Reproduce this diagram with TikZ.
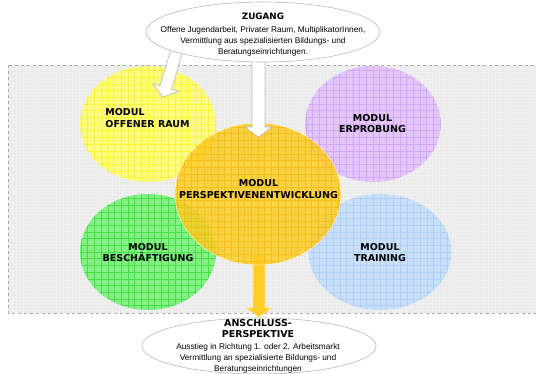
\documentclass[tikz,border=0pt]{standalone}
\usepackage{fontspec}
\setmainfont{Liberation Sans}
\newfontfamily\modfont{DejaVu Sans}
\usetikzlibrary{shapes.geometric,calc}
\definecolor{bgfill}{RGB}{234,234,234}
\definecolor{bggrid}{RGB}{240,240,240}
\definecolor{bgedge}{RGB}{170,170,170}
\definecolor{yelf}{RGB}{255,255,115}
\definecolor{yelg}{RGB}{250,235,10}
\definecolor{orgf}{RGB}{255,205,40}
\definecolor{orgg}{RGB}{240,180,0}
\definecolor{purf}{RGB}{226,192,250}
\definecolor{purg}{RGB}{200,150,245}
\definecolor{grnf}{RGB}{115,240,115}
\definecolor{grng}{RGB}{30,215,30}
\definecolor{bluf}{RGB}{196,222,250}
\definecolor{blug}{RGB}{160,200,245}
\definecolor{ovledge}{RGB}{185,185,185}
\newcommand\blkarrow[6]{%
  \coordinate (#2-base) at ($(#3)!#6!(#2)$);
  \draw[#1] ($(#2)!#4!90:(#3)$) -- ($(#2-base)!#4!90:(#3)$) -- ($(#2-base)!#5!90:(#3)$) -- (#3)
    -- ($(#2-base)!#5!-90:(#3)$) -- ($(#2-base)!#4!-90:(#3)$) -- ($(#2)!#4!-90:(#3)$) -- cycle;}
\newcommand\hdfont{\modfont\bfseries\fontsize{9.5}{11.5}\selectfont}
\newcommand\zgfont{\modfont\bfseries\fontsize{8.8}{11}\selectfont}
\begin{document}
\begin{tikzpicture}[x=1pt,y=-1pt,
  modtext/.style={font=\modfont\bfseries\fontsize{9.5}{11.5}\selectfont, align=center, inner sep=0pt},
  modcirc/.style 2 args={ellipse, inner sep=0pt, outer sep=0pt, fill=#1, fill opacity=0.85,
    path picture={\draw[#2, line width=0.55pt, draw opacity=0.6, step=6.7pt]
      (path picture bounding box.south west) grid (path picture bounding box.north east);}},
  infoell/.style={ellipse, inner sep=0pt, draw=ovledge, line width=0.6pt, fill=white},
  infotext/.style={align=center, inner sep=0pt, font=\fontsize{8.3}{11}\selectfont},
  whitearrow/.style={draw=ovledge, fill=white, line width=0.6pt},
  orgarrow/.style={draw=orgf!60!white, fill=orgf, line width=0.6pt},
]
\useasboundingbox (0,0) rectangle (536,374);
% background
\coordinate (bgA) at (8,65);
\coordinate (bgB) at (545,313);
\fill[bgfill] (bgA) rectangle (bgB);
\begin{scope}
  \clip (bgA) rectangle (bgB);
  \draw[bggrid, line width=0.4pt, step=3.3pt] (bgA) grid (bgB);
\end{scope}
\draw[bgedge, dashed, line width=0.6pt] (bgA) rectangle (bgB);
% modules
\node[modcirc={yelf}{yelg}, minimum width=136pt, minimum height=116pt] (raum) at (148,124) {};
\node[modcirc={purf}{purg}, minimum width=136pt, minimum height=116pt] (erp) at (373,124) {};
\node[modcirc={grnf}{grng}, minimum width=136pt, minimum height=116pt] (bes) at (148,252) {};
\node[modcirc={bluf}{blug}, minimum width=143pt, minimum height=116pt] (tra) at (380,252) {};
% bottom orange arrow
\coordinate (oas) at (259,255);
\coordinate (oat) at (259,317);
\blkarrow{orgarrow}{oas}{oat}{6pt}{12.5pt}{9pt}
\node[modcirc={orgf}{orgg}, minimum width=166pt, minimum height=142pt, draw=white, draw opacity=0.6, line width=0.6pt] (per) at (258,194) {};
% module texts
\node[modtext, align=left] (raumt) at (147.5,118) {MODUL\\OFFENER RAUM};
\node[modtext] (pert) at (258.5,189) {MODUL\\PERSPEKTIVENENTWICKLUNG};
\node[modtext] (erpt) at (372.5,123.5) {MODUL\\ERPROBUNG};
\node[modtext] (best) at (148,252.5) {MODUL\\BESCHÄFTIGUNG};
\node[modtext] (trat) at (380,252.5) {MODUL\\TRAINING};
% white arrows
\coordinate (w1s) at (178.5,45);
\coordinate (w1t) at (163,97);
\blkarrow{whitearrow}{w1s}{w1t}{6pt}{13.5pt}{10pt}
\coordinate (w2s) at (258.5,45);
\coordinate (w2t) at (258.5,137);
\blkarrow{whitearrow}{w2s}{w2t}{6.5pt}{13.5pt}{10pt}
% top ellipse
\node[infoell, minimum width=234pt, minimum height=60pt] (zug) at (263,32) {};
\node[infotext] (zugt) at (263,34.5) {\zgfont ZUGANG\\[1.5pt]
  Offene Jugendarbeit, Privater Raum, MultiplikatorInnen,\\
  Vermittlung aus spezialisierten Bildungs- und\\
  Beratungseinrichtungen.};
% bottom ellipse
\node[infoell, minimum width=234pt, minimum height=56pt] (ans) at (259,346) {};
\node[infotext] (anst) at (258,346.5) {\hdfont ANSCHLUSS-\\\hdfont PERSPEKTIVE\\[0.5pt]
  Ausstieg in Richtung 1. oder 2. Arbeitsmarkt\\
  Vermittlung an spezialisierte Bildungs- und\\
  Beratungseinrichtungen};
\end{tikzpicture}
\end{document}
